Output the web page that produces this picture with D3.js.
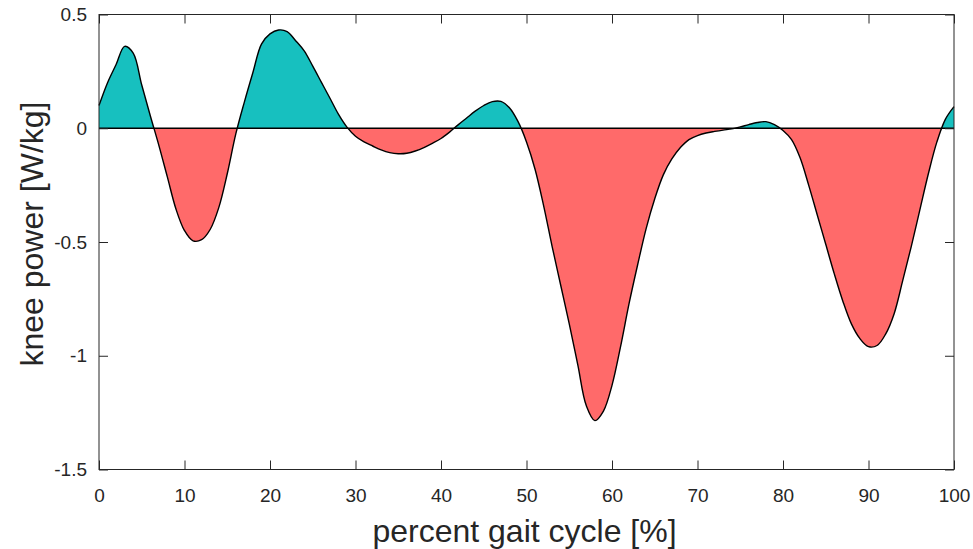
<!DOCTYPE html>
<html><head><meta charset="utf-8">
<script src="https://cdn.jsdelivr.net/npm/d3@7"></script>
<style>body{margin:0;background:#fff}svg{display:block}text{font-family:"Liberation Sans",Arial,sans-serif;fill:#262626}</style>
</head><body><svg id="c" width="973" height="549"></svg>
<script>
const gaitPercent = d3.range(0, 101);
const kneePower = [
 0.10, 0.20, 0.28, 0.36, 0.33, 0.19, 0.055, -0.075, -0.215, -0.355,
 -0.45, -0.495, -0.49, -0.445, -0.35, -0.20, -0.025, 0.115, 0.245, 0.37,
 0.415, 0.432, 0.425, 0.385, 0.34, 0.273, 0.203, 0.133, 0.062, 0.005,
 -0.035, -0.06, -0.078, -0.095, -0.107, -0.112, -0.11, -0.10, -0.085, -0.066,
 -0.045, -0.017, 0.015, 0.045, 0.075, 0.10, 0.117, 0.118, 0.09, 0.03,
 -0.06, -0.18, -0.34, -0.52, -0.69, -0.86, -1.04, -1.22, -1.285, -1.243,
 -1.13, -0.96, -0.77, -0.60, -0.44, -0.31, -0.205, -0.135, -0.085, -0.05,
 -0.032, -0.021, -0.014, -0.008, -0.003, 0.006, 0.016, 0.025, 0.029, 0.016,
 -0.01, -0.05, -0.13, -0.25, -0.38, -0.51, -0.64, -0.76, -0.86, -0.925,
 -0.96, -0.955, -0.905, -0.815, -0.67, -0.52, -0.36, -0.20, -0.06, 0.04,
 0.095];
const xTicks = [0,10,20,30,40,50,60,70,80,90,100];
const yTicks = [0.5,0,-0.5,-1,-1.5];
const yTickLabels = ["0.5","0","-0.5","-1","-1.5"];
const xLabel = "percent gait cycle [%]";
const yLabel = "knee power [W/kg]";
const posColor = "#17c0bf", negColor = "#ff6a6a";

const data = gaitPercent.map((g,i)=>({x:g,y:kneePower[i]}));
const svg = d3.select("#c");
const L=99, R=954, T=14.5, B=469.5;
const x = d3.scaleLinear().domain([0,100]).range([L,R]);
const y = d3.scaleLinear().domain([-1.5,0.5]).range([B,T]);
const curve = d3.curveCatmullRom.alpha(0.5);
const defs = svg.append("defs");
defs.append("clipPath").attr("id","above").append("rect").attr("x",L).attr("y",T).attr("width",R-L).attr("height",y(0)-T);
defs.append("clipPath").attr("id","below").append("rect").attr("x",L).attr("y",y(0)).attr("width",R-L).attr("height",B-y(0));
const area = d3.area().x(d=>x(d.x)).y0(y(0)).y1(d=>y(d.y)).curve(curve);
svg.append("path").datum(data).attr("d",area).attr("fill",posColor).attr("clip-path","url(#above)");
svg.append("path").datum(data).attr("d",area).attr("fill",negColor).attr("clip-path","url(#below)");
svg.append("line").attr("x1",L).attr("x2",R).attr("y1",y(0)).attr("y2",y(0)).attr("stroke","#000").attr("stroke-width",1.5);
svg.append("path").datum(data).attr("d",d3.line().x(d=>x(d.x)).y(d=>y(d.y)).curve(curve)).attr("fill","none").attr("stroke","#000").attr("stroke-width",1.4);

// axes box
const ax = "#262626";
svg.append("rect").attr("x",L).attr("y",T).attr("width",R-L).attr("height",B-T).attr("fill","none").attr("stroke",ax).attr("stroke-width",1);
const xb = svg.append("g").attr("transform",`translate(0,${B})`).call(d3.axisBottom(x).tickValues(xTicks).tickSizeInner(-9).tickSizeOuter(0).tickPadding(19));
const xt = svg.append("g").attr("transform",`translate(0,${T})`).call(d3.axisTop(x).tickValues(xTicks).tickSizeInner(-9).tickSizeOuter(0).tickFormat(""));
const yl = svg.append("g").attr("transform",`translate(${L},0)`).call(d3.axisLeft(y).tickValues(yTicks).tickSizeInner(-9).tickSizeOuter(0).tickPadding(12).tickFormat((d,i)=>yTickLabels[i]));
const yr = svg.append("g").attr("transform",`translate(${R},0)`).call(d3.axisRight(y).tickValues(yTicks).tickSizeInner(-9).tickSizeOuter(0).tickFormat(""));
[xb,xt,yl,yr].forEach(g=>{g.select(".domain").remove();g.selectAll("line").attr("stroke",ax);g.selectAll("text").attr("font-size",19).attr("fill",ax).style("font-family","'Liberation Sans',Arial,sans-serif");});
xb.selectAll("text").attr("dy","0.71em");

svg.append("text").attr("x",(L+R)/2-2).attr("y",542).attr("text-anchor","middle").attr("font-size",32).text(xLabel);
svg.append("text").attr("transform",`translate(43,234) rotate(-90)`).attr("text-anchor","middle").attr("font-size",32).text(yLabel);
</script></body></html>
